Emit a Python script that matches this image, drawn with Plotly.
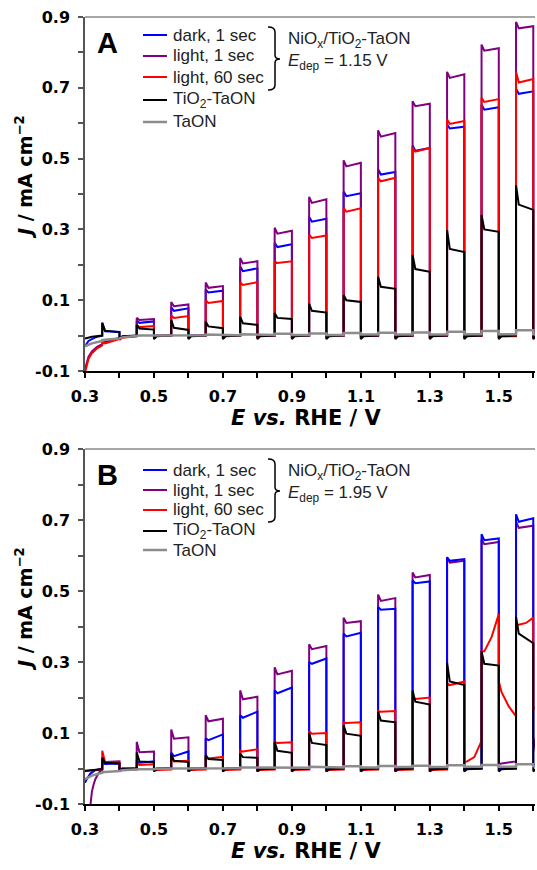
import numpy as np
import plotly.graph_objects as go

# ---------------- data ----------------
# chopped light: each light pulse starts at these potentials and lasts 0.05 V
ON = [0.35, 0.45, 0.55, 0.65, 0.75, 0.85, 0.95, 1.05, 1.15, 1.25, 1.35, 1.45, 1.55]
PULSE_WIDTH = 0.05

NAMES = ["dark, 1 sec", "light, 1 sec", "light, 60 sec", "TiO<sub>2</sub>-TaON", "TaON"]
COLORS = ["#0000ff", "#800080", "#ff0000", "#000000", "#8c8c8c"]

XTICKS = [0.3, 0.5, 0.7, 0.9, 1.1, 1.3, 1.5]
YTICKS = [-0.1, 0.1, 0.3, 0.5, 0.7, 0.9]

# Light rows: (onset value, plateau values ...); dark rows: (value at light-off, following values ...)
# ---- Panel A (E_dep = 1.15 V) ----
A_BLUE_INIT_E = [0.30, 0.31, 0.33, 0.35]
A_BLUE_INIT_J = [-0.030, -0.015, -0.005, 0.000]
A_BLUE_LIGHT = [(0.036, 0.012, 0.010), (0.042, 0.036, 0.040), (0.080, 0.070, 0.077),
                (0.130, 0.122, 0.127), (0.195, 0.182, 0.190), (0.262, 0.250, 0.258),
                (0.335, 0.322, 0.330), (0.407, 0.394, 0.402), (0.470, 0.455, 0.462),
                (0.537, 0.522, 0.530), (0.597, 0.585, 0.590), (0.652, 0.638, 0.645),
                (0.697, 0.683, 0.690)]
A_BLUE_DARK = [(-0.010, -0.004, 0.000), (-0.003, 0.000, 0.000), (-0.003, 0.000, 0.000),
               (-0.003, 0.000, 0.000), (-0.003, 0.000, 0.000), (-0.003, 0.000, 0.000),
               (-0.003, 0.000, 0.000), (-0.003, 0.000, 0.000), (-0.003, 0.000, 0.000),
               (-0.003, 0.000, 0.000), (-0.003, 0.000, 0.000), (-0.003, 0.000, 0.000),
               (-0.003, 0.000, 0.000)]

A_PURPLE_INIT_E = [0.300, 0.305, 0.310, 0.320, 0.335, 0.350]
A_PURPLE_INIT_J = [-0.095, -0.075, -0.060, -0.045, -0.032, -0.024]
A_PURPLE_LIGHT = [(-0.012, -0.018, -0.006), (0.050, 0.044, 0.047), (0.095, 0.083, 0.088),
                  (0.150, 0.135, 0.140), (0.219, 0.204, 0.210), (0.305, 0.288, 0.296),
                  (0.392, 0.375, 0.385), (0.495, 0.478, 0.488), (0.580, 0.562, 0.572),
                  (0.662, 0.648, 0.655), (0.745, 0.728, 0.738), (0.822, 0.805, 0.812),
                  (0.886, 0.868, 0.874)]
A_PURPLE_DARK = [(-0.010, -0.004, -0.001), (-0.003, 0.000, 0.000), (-0.003, 0.000, 0.000),
                 (-0.003, 0.000, 0.000), (-0.003, 0.000, 0.000), (-0.003, 0.000, 0.000),
                 (-0.003, 0.000, 0.000), (-0.003, 0.000, 0.000), (-0.003, 0.000, 0.000),
                 (-0.003, 0.000, 0.000), (-0.003, 0.000, 0.000), (-0.003, 0.000, 0.000),
                 (-0.003, 0.000, 0.000)]

A_RED_INIT_E = [0.300, 0.305, 0.310, 0.320, 0.335, 0.350]
A_RED_INIT_J = [-0.105, -0.082, -0.066, -0.050, -0.036, -0.028]
A_RED_LIGHT = [(-0.018, -0.022, -0.010), (0.030, 0.024, 0.027), (0.056, 0.050, 0.055),
               (0.100, 0.092, 0.098), (0.150, 0.143, 0.151), (0.210, 0.205, 0.210),
               (0.285, 0.276, 0.283), (0.360, 0.350, 0.360), (0.445, 0.436, 0.446),
               (0.530, 0.520, 0.530), (0.610, 0.598, 0.606), (0.672, 0.660, 0.668),
               (0.745, 0.715, 0.725)]
A_RED_DARK = [(-0.012, -0.006, -0.002), (-0.004, -0.001, 0.000), (-0.004, -0.001, 0.000),
              (-0.004, -0.001, 0.000), (-0.004, -0.001, 0.000), (-0.004, -0.001, 0.000),
              (-0.004, -0.001, 0.000), (-0.004, -0.001, 0.000), (-0.004, -0.001, 0.000),
              (-0.004, -0.001, 0.000), (-0.004, -0.001, 0.000), (-0.004, -0.002, -0.002),
              (-0.004, -0.001, 0.000)]

A_BLACK_INIT_E = [0.30, 0.32, 0.35]
A_BLACK_INIT_J = [-0.008, -0.003, 0.000]
A_BLACK_LIGHT = [(0.036, 0.014, 0.010), (0.030, 0.020, 0.017), (0.044, 0.022, 0.016),
                 (0.040, 0.026, 0.021), (0.053, 0.035, 0.030), (0.064, 0.050, 0.047),
                 (0.090, 0.070, 0.065), (0.115, 0.100, 0.095), (0.166, 0.138, 0.132),
                 (0.228, 0.188, 0.180), (0.298, 0.245, 0.236), (0.341, 0.300, 0.293),
                 (0.425, 0.370, 0.355)]
A_BLACK_DARK = [(-0.010, -0.002, 0.000), (-0.010, -0.002, 0.000), (-0.010, -0.002, 0.000),
                (-0.010, -0.002, 0.000), (-0.010, -0.002, 0.000), (-0.010, -0.002, 0.000),
                (-0.010, -0.002, 0.000), (-0.010, -0.002, 0.000), (-0.010, -0.002, 0.000),
                (-0.010, -0.002, 0.000), (-0.010, -0.002, 0.000), (-0.010, -0.002, 0.000),
                (-0.010, -0.002, 0.000)]

A_GRAY_INIT_E = [0.30, 0.32, 0.35]
A_GRAY_INIT_J = [-0.030, -0.022, -0.015]
A_GRAY_LIGHT = [(-0.013, -0.012, -0.010), (0.000, 0.000, 0.000), (0.002, 0.002, 0.002),
                (0.003, 0.003, 0.003), (0.004, 0.004, 0.004), (0.005, 0.005, 0.005),
                (0.006, 0.006, 0.006), (0.007, 0.007, 0.007), (0.008, 0.008, 0.008),
                (0.009, 0.009, 0.009), (0.011, 0.011, 0.011), (0.013, 0.013, 0.013),
                (0.015, 0.015, 0.015)]
A_GRAY_DARK = [(-0.008, -0.005, -0.002), (0.000, 0.000, 0.000), (0.001, 0.001, 0.001),
               (0.001, 0.001, 0.001), (0.002, 0.002, 0.002), (0.002, 0.002, 0.002),
               (0.002, 0.002, 0.002), (0.003, 0.003, 0.003), (0.003, 0.003, 0.003),
               (0.003, 0.003, 0.003), (0.004, 0.004, 0.004), (0.004, 0.004, 0.004),
               (0.004, 0.004, 0.004)]

# ---- Panel B (E_dep = 1.95 V) ----
B_BLUE_INIT_E = [0.300, 0.305, 0.315, 0.330, 0.350]
B_BLUE_INIT_J = [-0.040, -0.030, -0.015, -0.005, 0.000]
B_BLUE_LIGHT = [(0.015, 0.013, 0.014), (0.020, 0.016, 0.020), (0.045, 0.035, 0.048),
                (0.085, 0.080, 0.096), (0.150, 0.143, 0.160), (0.220, 0.212, 0.228),
                (0.300, 0.295, 0.310), (0.380, 0.372, 0.382), (0.455, 0.447, 0.450),
                (0.530, 0.522, 0.527), (0.595, 0.585, 0.590), (0.660, 0.643, 0.648),
                (0.716, 0.695, 0.705)]
B_BLUE_DARK = [(-0.004, 0.000, 0.000), (-0.004, 0.000, 0.000), (-0.004, 0.000, 0.000),
               (-0.004, 0.000, 0.000), (-0.004, 0.000, 0.000), (-0.004, 0.000, 0.000),
               (-0.004, 0.000, 0.000), (-0.004, 0.000, 0.000), (-0.004, 0.000, 0.000),
               (-0.004, 0.000, 0.000), (-0.004, 0.000, 0.000), (-0.004, 0.000, 0.000),
               (0.010, 0.010, 0.010)]

B_PURPLE_INIT_E = [0.305, 0.315, 0.320, 0.325, 0.330, 0.340, 0.350]
B_PURPLE_INIT_J = [-0.200, -0.100, -0.065, -0.045, -0.030, -0.012, -0.004]
B_PURPLE_LIGHT = [(0.020, 0.018, 0.020), (0.075, 0.046, 0.048), (0.110, 0.084, 0.088),
                  (0.150, 0.133, 0.140), (0.220, 0.195, 0.202), (0.285, 0.265, 0.275),
                  (0.350, 0.336, 0.345), (0.425, 0.410, 0.415), (0.490, 0.472, 0.480),
                  (0.552, 0.538, 0.545), (0.595, 0.580, 0.585), (0.645, 0.632, 0.638),
                  (0.695, 0.678, 0.684)]
B_PURPLE_DARK = [(-0.004, 0.000, 0.000), (-0.004, 0.000, 0.000), (-0.004, 0.000, 0.000),
                 (-0.004, 0.000, 0.000), (-0.004, 0.000, 0.000), (-0.004, 0.000, 0.000),
                 (-0.004, 0.000, 0.000), (-0.004, 0.000, 0.000), (-0.004, 0.000, 0.000),
                 (-0.004, 0.000, 0.000), (-0.004, 0.000, 0.000), (0.012, 0.014, 0.020),
                 (0.090, 0.045, 0.045)]

B_RED_INIT_E = [0.30, 0.32, 0.35]
B_RED_INIT_J = [-0.008, -0.005, -0.002]
B_RED_LIGHT = [(0.050, 0.018, 0.016), (0.015, 0.010, 0.012), (0.030, 0.020, 0.022),
               (0.033, 0.028, 0.033), (0.050, 0.048, 0.054), (0.075, 0.072, 0.074),
               (0.105, 0.098, 0.100), (0.130, 0.128, 0.130), (0.162, 0.160, 0.162),
               (0.200, 0.196, 0.200), (0.240, 0.235, 0.245), (0.330, 0.330, 0.370, 0.435),
               (0.405, 0.405, 0.410, 0.425)]
B_RED_DARK = [(-0.006, -0.004, -0.003), (-0.006, -0.004, -0.003), (-0.006, -0.004, -0.003),
              (-0.006, -0.004, -0.003), (-0.006, -0.004, -0.003), (-0.006, -0.004, -0.003),
              (-0.006, -0.004, -0.003), (-0.006, -0.004, -0.003), (-0.006, -0.004, -0.003),
              (-0.006, -0.004, -0.003), (0.018, 0.020, 0.032, 0.078), (0.245, 0.215, 0.175, 0.147),
              (0.170, 0.170)]

B_BLACK_INIT_E = [0.30, 0.32, 0.35]
B_BLACK_INIT_J = [-0.006, -0.004, -0.002]
B_BLACK_LIGHT = [(0.030, 0.016, 0.014), (0.045, 0.020, 0.018), (0.040, 0.022, 0.018),
                 (0.038, 0.027, 0.024), (0.042, 0.032, 0.030), (0.075, 0.050, 0.044),
                 (0.100, 0.072, 0.066), (0.122, 0.098, 0.092), (0.160, 0.135, 0.130),
                 (0.220, 0.188, 0.180), (0.298, 0.245, 0.235), (0.330, 0.295, 0.290),
                 (0.428, 0.380, 0.353)]
B_BLACK_DARK = [(-0.008, -0.002, 0.000), (-0.008, -0.002, 0.000), (-0.008, -0.002, 0.000),
                (-0.008, -0.002, 0.000), (-0.008, -0.002, 0.000), (-0.008, -0.002, 0.000),
                (-0.008, -0.002, 0.000), (-0.008, -0.002, 0.000), (-0.008, -0.002, 0.000),
                (-0.008, -0.002, 0.000), (-0.008, -0.002, 0.000), (-0.008, -0.002, 0.000),
                (-0.008, -0.002, 0.000)]

B_GRAY_INIT_E = [0.30, 0.32, 0.35]
B_GRAY_INIT_J = [-0.030, -0.020, -0.012]
B_GRAY_LIGHT = [(-0.010, -0.010, -0.009), (-0.002, -0.002, -0.002), (0.000, 0.000, 0.000),
                (0.002, 0.002, 0.002), (0.003, 0.003, 0.003), (0.004, 0.004, 0.004),
                (0.005, 0.005, 0.005), (0.006, 0.006, 0.006), (0.007, 0.007, 0.007),
                (0.008, 0.008, 0.008), (0.009, 0.009, 0.009), (0.010, 0.010, 0.010),
                (0.012, 0.012, 0.012)]
B_GRAY_DARK = [(-0.007, -0.005, -0.003), (-0.002, -0.001, -0.001), (0.000, 0.000, 0.000),
               (0.001, 0.001, 0.001), (0.002, 0.002, 0.002), (0.002, 0.002, 0.002),
               (0.003, 0.003, 0.003), (0.003, 0.003, 0.003), (0.004, 0.004, 0.004),
               (0.004, 0.004, 0.004), (0.005, 0.005, 0.005), (0.005, 0.005, 0.005),
               (0.006, 0.006, 0.006)]

# ---------------- helpers ----------------
def build(init_e, init_j, light, dark):
    xs, ys = list(init_e), list(init_j)
    for e, lrow, drow in zip(ON, light, dark):
        off = e + PULSE_WIDTH
        xs += [e, e]
        ys += [ys[-1], lrow[0]]
        rest = lrow[1:]
        xs += list(np.linspace(e + 0.008, off, len(rest)))
        ys += list(rest)
        xs.append(off)
        ys.append(drow[0])
        rest = drow[1:]
        xs += list(np.linspace(off + 0.008, off + PULSE_WIDTH, len(rest)))
        ys += list(rest)
    return xs, ys

# pixel geometry of the figure
W, H = 537, 870
ML, MR, MT, MB = 85, 2, 17, 66
PW, PH = W - ML - MR, H - MT - MB

def px(xp):
    return (xp - ML) / PW

def py(yp):
    return (H - MB - yp) / PH

A_TOP, A_BOT = 17, 371
B_TOP, B_BOT = 449, 804

fig = go.Figure()

panelA = [
    (A_BLUE_INIT_E, A_BLUE_INIT_J, A_BLUE_LIGHT, A_BLUE_DARK),
    (A_PURPLE_INIT_E, A_PURPLE_INIT_J, A_PURPLE_LIGHT, A_PURPLE_DARK),
    (A_RED_INIT_E, A_RED_INIT_J, A_RED_LIGHT, A_RED_DARK),
    (A_BLACK_INIT_E, A_BLACK_INIT_J, A_BLACK_LIGHT, A_BLACK_DARK),
    (A_GRAY_INIT_E, A_GRAY_INIT_J, A_GRAY_LIGHT, A_GRAY_DARK),
]
panelB = [
    (B_BLUE_INIT_E, B_BLUE_INIT_J, B_BLUE_LIGHT, B_BLUE_DARK),
    (B_PURPLE_INIT_E, B_PURPLE_INIT_J, B_PURPLE_LIGHT, B_PURPLE_DARK),
    (B_RED_INIT_E, B_RED_INIT_J, B_RED_LIGHT, B_RED_DARK),
    (B_BLACK_INIT_E, B_BLACK_INIT_J, B_BLACK_LIGHT, B_BLACK_DARK),
    (B_GRAY_INIT_E, B_GRAY_INIT_J, B_GRAY_LIGHT, B_GRAY_DARK),
]
B_DRAW_ORDER = [1, 0, 2, 3, 4]

for i, series in enumerate(panelA):
    x, y = build(*series)
    fig.add_trace(go.Scatter(x=x, y=y, mode="lines", name=NAMES[i], showlegend=False,
                             line=dict(color=COLORS[i], width=2.5 if i == 4 else 2),
                             xaxis="x", yaxis="y"))
for i in B_DRAW_ORDER:
    x, y = build(*panelB[i])
    fig.add_trace(go.Scatter(x=x, y=y, mode="lines", name=NAMES[i], showlegend=False,
                             line=dict(color=COLORS[i], width=2.5 if i == 4 else 2),
                             xaxis="x2", yaxis="y2"))

tickfont = dict(family="DejaVu Sans", size=16, color="#000", weight="bold")

def xaxis_cfg(anchor):
    return dict(domain=[0, 1], range=[0.3, 1.605], anchor=anchor, automargin=False,
                tickvals=XTICKS, ticktext=[f"{v:.1f}" for v in XTICKS],
                ticks="outside", ticklen=5, tickwidth=1.5, tickcolor="#000",
                minor=dict(tickvals=[0.4, 0.6, 0.8, 1.0, 1.2, 1.4, 1.6], ticks="outside",
                           ticklen=5, tickwidth=1.5, tickcolor="#000"),
                showline=True, linecolor="#000", linewidth=1.5,
                showgrid=False, zeroline=False, tickfont=tickfont,
                ticklabelstandoff=5)

def yaxis_cfg(anchor, dom):
    return dict(domain=dom, range=[-0.1, 0.9], anchor=anchor, automargin=False,
                tickvals=YTICKS, ticktext=[f"{v:.1f}" for v in YTICKS],
                ticks="outside", ticklen=5, tickwidth=1.5, tickcolor="#555",
                minor=dict(tickvals=[0.0, 0.2, 0.4, 0.6, 0.8], ticks="outside",
                           ticklen=5, tickwidth=1.5, tickcolor="#555"),
                showline=True, linecolor="#555", linewidth=1.5,
                showgrid=False, zeroline=False, tickfont=tickfont,
                ticklabelstandoff=5)

fig.update_layout(
    width=W, height=H,
    margin=dict(l=ML, r=MR, t=MT, b=MB, autoexpand=False),
    paper_bgcolor="white", plot_bgcolor="white",
    xaxis=xaxis_cfg("y"), yaxis=yaxis_cfg("x", [py(A_BOT), py(A_TOP)]),
    xaxis2=xaxis_cfg("y2"), yaxis2=yaxis_cfg("x2", [py(B_BOT), py(B_TOP)]),
    showlegend=False,
)

title_font = dict(family="DejaVu Sans", size=21, color="#000", weight="bold")
ytitle_font = dict(family="DejaVu Sans", size=19, color="#000", weight="bold")
note_font = dict(family="Liberation Sans", size=17, color="#222")
annotations = []
shapes = []
LEGEND_ROWS = {"A": [35, 56, 77, 100, 122], "B": [470, 490, 510, 531, 550]}
for label, top, bot, edep in [("A", A_TOP, A_BOT, "1.15"), ("B", B_TOP, B_BOT, "1.95")]:
    annotations += [
        dict(text=label, x=px(107), y=py(top + 26), xref="paper", yref="paper",
             showarrow=False, xanchor="center", yanchor="middle",
             font=dict(family="Liberation Sans", size=29, color="#000", weight="bold")),
        dict(text="<i>J</i> / mA cm<sup>\u22122</sup>", x=px(24), y=py(top + 160),
             xref="paper", yref="paper", showarrow=False, textangle=-90,
             xanchor="center", yanchor="middle", font=ytitle_font),
        dict(text="<i>E vs.</i> RHE / V", x=px(306), y=py(bot + 47), xref="paper", yref="paper",
             showarrow=False, xanchor="center", yanchor="middle", font=title_font),
        dict(text="NiO<sub>x</sub>/TiO<sub>2</sub>-TaON", x=px(286), y=py(top + 23),
             xref="paper", yref="paper", showarrow=False, xanchor="left", yanchor="middle",
             font=note_font),
        dict(text="<i>E</i><sub>dep</sub> = " + edep + " V", x=px(286), y=py(top + 45),
             xref="paper", yref="paper", showarrow=False, xanchor="left", yanchor="middle",
             font=note_font),
    ]
    # legend rows (sample line + real text)
    for k, row in enumerate(LEGEND_ROWS[label]):
        shapes.append(dict(type="line", xref="paper", yref="paper",
                           x0=px(143), x1=px(167), y0=py(row), y1=py(row),
                           line=dict(color=COLORS[k], width=2.5 if k == 4 else 2)))
        annotations.append(dict(text=NAMES[k], x=px(171), y=py(row), xref="paper",
                                yref="paper", showarrow=False, xanchor="left",
                                yanchor="middle", font=note_font))
    # brace
    t, m, b = top + 10, top + 42, top + 73
    pts = (f"M{px(268)},{py(t)} Q{px(275)},{py(t)} {px(275)},{py(t + 5)} "
           f"L{px(275)},{py(m - 4)} Q{px(275)},{py(m)} {px(280)},{py(m)} "
           f"Q{px(275)},{py(m)} {px(275)},{py(m + 4)} "
           f"L{px(275)},{py(b - 5)} Q{px(275)},{py(b)} {px(268)},{py(b)}")
    shapes.append(dict(type="path", path=pts, xref="paper", yref="paper",
                       line=dict(color="#000", width=1.5)))
    # top frame line
    shapes.append(dict(type="line", x0=0, x1=1, y0=py(top), y1=py(top), xref="paper",
                       yref="paper", line=dict(color="#888", width=1.5)))

fig.update_layout(annotations=annotations, shapes=shapes)
fig.write_html("out.html", config={"displayModeBar": False},
               post_script="document.body.style.margin='0';document.body.style.overflow='hidden';")
